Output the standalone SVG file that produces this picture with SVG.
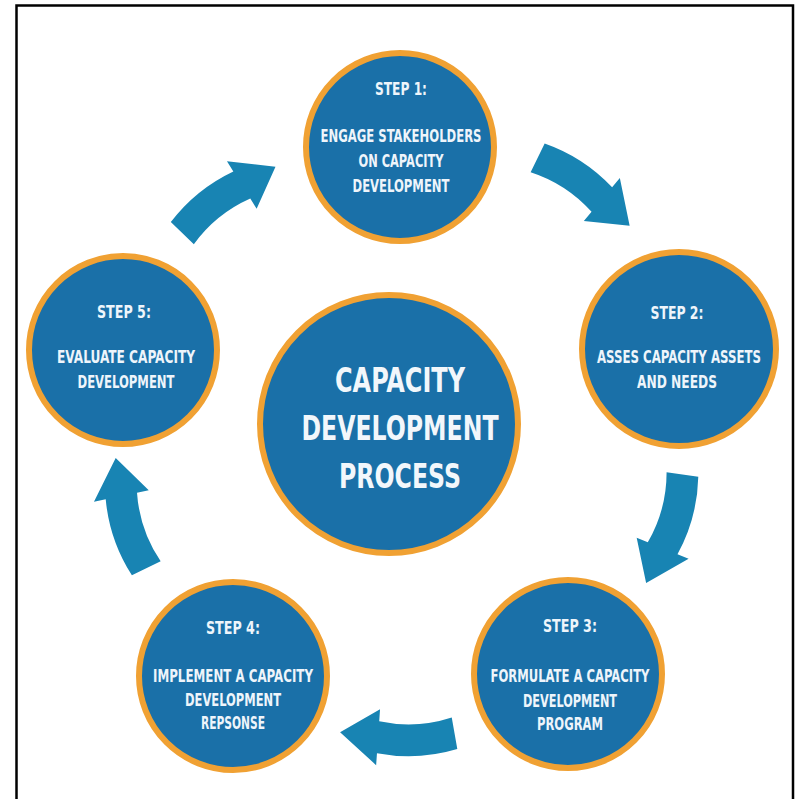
<svg xmlns="http://www.w3.org/2000/svg" width="798" height="799" viewBox="0 0 798 799">
  <defs>
    <style>
      .step circle { fill: #1a70a8; stroke: #f0a133; stroke-width: 6; }
      .hub circle { fill: #1a70a8; stroke: #f0a133; stroke-width: 6; }
      .step text { font-family: "DejaVu Sans", "Liberation Sans", sans-serif; font-stretch: condensed; font-weight: bold; font-size: 17px; fill: #eef5fb; text-anchor: middle; }
      .hub text { font-family: "DejaVu Sans", "Liberation Sans", sans-serif; font-stretch: condensed; font-weight: bold; font-size: 33px; fill: #f2f7fb; text-anchor: middle; }
      .arrow { fill: #1884b3; }
    </style>
    <path id="arc-arrow" d="M-57.30,-324.99 A170,170 0 0 1 23.02,-329.20 L23.86,-341.17 L59.91,-308.23 L19.95,-285.30 L20.79,-297.27 A140,140 0 0 0 -51.75,-293.47 Z"/>
  </defs>
  <rect width="798" height="799" fill="#ffffff"/>
  <path d="M16.5,801 V5.5 H793 V801" fill="none" stroke="#000000" stroke-width="2.5"/>

  <g id="connectors">
    <use href="#arc-arrow" class="arrow" transform="translate(400,440) rotate(36)"/>
    <use href="#arc-arrow" class="arrow" transform="translate(371.5,430.7) rotate(108)"/>
    <use href="#arc-arrow" class="arrow" transform="translate(400,424) rotate(180)"/>
    <use href="#arc-arrow" class="arrow" transform="translate(428.5,430.7) rotate(254)"/>
    <use href="#arc-arrow" class="arrow" transform="translate(408.2,451.3) rotate(324)"/>
  </g>

  <g id="hub" class="hub">
    <circle cx="389" cy="424" r="129"/>
    <text x="400" y="392" textLength="130" lengthAdjust="spacingAndGlyphs">CAPACITY</text>
    <text x="400" y="440" textLength="197" lengthAdjust="spacingAndGlyphs">DEVELOPMENT</text>
    <text x="400" y="488" textLength="122" lengthAdjust="spacingAndGlyphs">PROCESS</text>
  </g>

  <g id="step1" class="step">
    <circle cx="400" cy="147" r="94"/>
    <text x="401" y="95" textLength="52" lengthAdjust="spacingAndGlyphs">STEP 1:</text>
    <text x="401" y="142" textLength="161" lengthAdjust="spacingAndGlyphs">ENGAGE STAKEHOLDERS</text>
    <text x="401" y="167" textLength="85" lengthAdjust="spacingAndGlyphs">ON CAPACITY</text>
    <text x="401" y="192" textLength="97" lengthAdjust="spacingAndGlyphs">DEVELOPMENT</text>
  </g>

  <g id="step2" class="step">
    <circle cx="679" cy="349" r="97"/>
    <text x="677" y="319" textLength="53" lengthAdjust="spacingAndGlyphs">STEP 2:</text>
    <text x="679" y="363" textLength="164" lengthAdjust="spacingAndGlyphs">ASSES CAPACITY ASSETS</text>
    <text x="677" y="388" textLength="80" lengthAdjust="spacingAndGlyphs">AND NEEDS</text>
  </g>

  <g id="step3" class="step">
    <circle cx="568" cy="674" r="94"/>
    <text x="570" y="632" textLength="54" lengthAdjust="spacingAndGlyphs">STEP 3:</text>
    <text x="570" y="682" textLength="159" lengthAdjust="spacingAndGlyphs">FORMULATE A CAPACITY</text>
    <text x="570" y="707" textLength="94" lengthAdjust="spacingAndGlyphs">DEVELOPMENT</text>
    <text x="570" y="730" textLength="66" lengthAdjust="spacingAndGlyphs">PROGRAM</text>
  </g>

  <g id="step4" class="step">
    <circle cx="233" cy="676" r="94"/>
    <text x="233" y="634" textLength="54" lengthAdjust="spacingAndGlyphs">STEP 4:</text>
    <text x="233" y="682" textLength="160" lengthAdjust="spacingAndGlyphs">IMPLEMENT A CAPACITY</text>
    <text x="233" y="706" textLength="96" lengthAdjust="spacingAndGlyphs">DEVELOPMENT</text>
    <text x="233" y="729" textLength="64" lengthAdjust="spacingAndGlyphs">REPSONSE</text>
  </g>

  <g id="step5" class="step">
    <circle cx="123" cy="350" r="94"/>
    <text x="124" y="318" textLength="54" lengthAdjust="spacingAndGlyphs">STEP 5:</text>
    <text x="126" y="363" textLength="138" lengthAdjust="spacingAndGlyphs">EVALUATE CAPACITY</text>
    <text x="126" y="388" textLength="97" lengthAdjust="spacingAndGlyphs">DEVELOPMENT</text>
  </g>
</svg>
